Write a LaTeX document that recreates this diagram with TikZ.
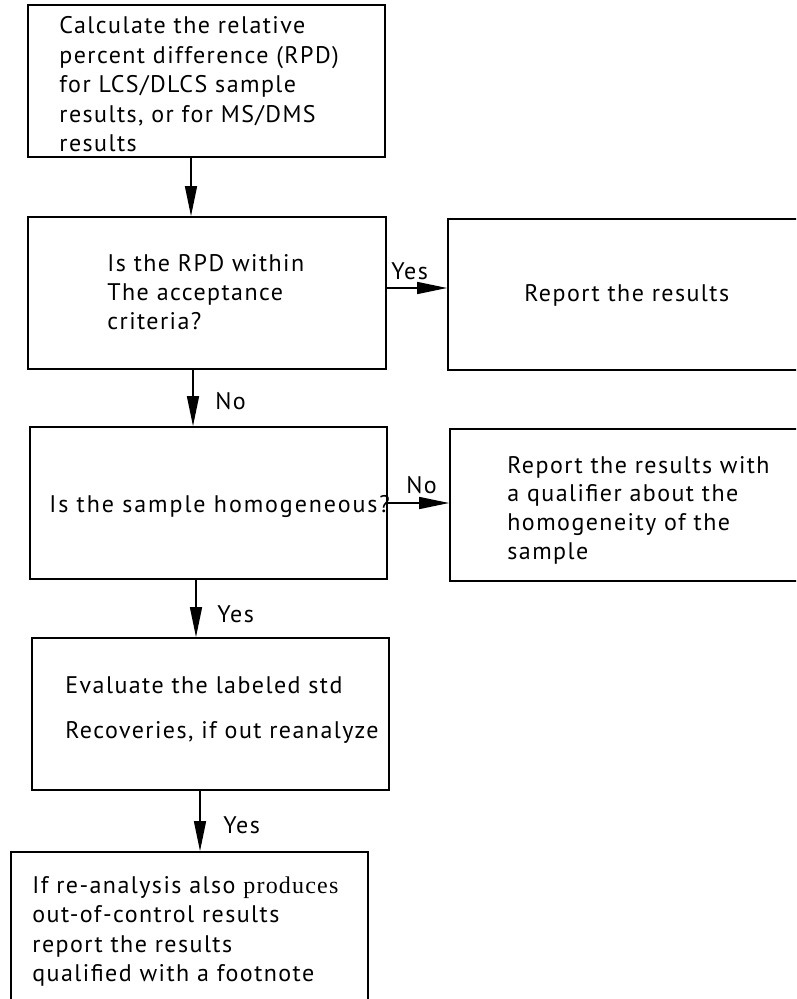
\documentclass[tikz,border=0pt]{standalone}
\usepackage{fontspec}
\setmainfont{PT Sans}[LetterSpace=6]
\newfontfamily\serifword{Liberation Serif}[LetterSpace=5]
\usetikzlibrary{arrows.meta,fit}
% stacked left-aligned lines whose reference point is the first baseline
\newcommand\stacklines[2]{\vtop{\baselineskip=#1\relax\lineskiplimit=-100pt\halign{##\hfil\cr#2\crcr}}}
\begin{document}
\begin{tikzpicture}[x=0.5pt,y=-0.5pt,
  box/.style={draw, line width=0.9pt, inner sep=0pt},
  txt/.style={anchor=base west, inner sep=0pt, font=\fontsize{12pt}{14.6pt}\selectfont},
  lbl/.style={anchor=base west, inner sep=0pt, font=\fontsize{12pt}{14.6pt}\selectfont},
  arr/.style={line width=0.75pt, -{Triangle[length=15pt,width=6pt]}}]
\useasboundingbox (0,0) rectangle (796,999);
\begin{scope}
\clip (0,0) rectangle (796,999);

% boxes
\node[box, fit={(28,5) (385,157)}]   (b1) {};
\node[box, fit={(28,217) (386,369)}] (b2) {};
\node[box, fit={(448,219) (830,370)}] (b3) {};
\node[box, fit={(30,427) (387,579)}] (b4) {};
\node[box, fit={(450,429) (830,581)}] (b5) {};
\node[box, fit={(32,638) (389,790)}] (b6) {};
\node[box, fit={(11,852) (368,1040)}] (b7) {};

% box texts
\node[txt] (t1) at (59,34) {\stacklines{14.75pt}{Calculate the relative\cr percent difference (RPD)\cr for LCS/DLCS sample\cr results, or for MS/DMS\cr results}};
\node[txt] (t2) at (107,272) {\stacklines{14.5pt}{Is the RPD within\cr The acceptance\cr criteria?}};
\node[txt] (t3) at (524,302) {Report the results};
\node[txt] (t4) at (49,512) {\addfontfeature{LetterSpace=8}Is the sample homogeneous?};
\node[txt] (t5) at (507,473) {\stacklines{14.4pt}{Report the results with\cr a qualifier about the\cr homogeneity of the\cr sample}};
\node[txt] (t6) at (65,693) {\stacklines{22.5pt}{Evaluate the labeled std\cr Recoveries, if out reanalyze}};
\node[txt] (t7) at (32,893) {\stacklines{14.8pt}{If re-analysis also {\serifword produces}\cr out-of-control results\cr report the results\cr qualified with a footnote}};

% connectors
\draw[arr] ([xshift=-7.75pt]b1.south) -- ([xshift=-7.75pt]b1.south |- b2.north);
\draw[arr] ([yshift=2.5pt]b2.east) -- ([yshift=2.5pt]b2.east -| b3.west);
\draw[arr] ([xshift=-7pt]b2.south) -- ([xshift=-7pt]b2.south |- b4.north);
\draw[arr] (b4.east) -- (b4.east -| b5.west);
\draw[arr] ([xshift=-6.25pt]b4.south) -- ([xshift=-6.25pt]b4.south |- b6.north);
\draw[arr] ([xshift=-5.25pt]b6.south) -- ([xshift=-5.25pt]b6.south |- b7.north);

% connector labels
\node[lbl] (l1) at (391,280) {Yes};
\node[lbl] (l2) at (215,409) {No};
\node[lbl] (l3) at (406,493) {No};
\node[lbl] (l4) at (217,622) {Yes};
\node[lbl] (l5) at (223,833) {Yes};
\end{scope}
\end{tikzpicture}
\end{document}
